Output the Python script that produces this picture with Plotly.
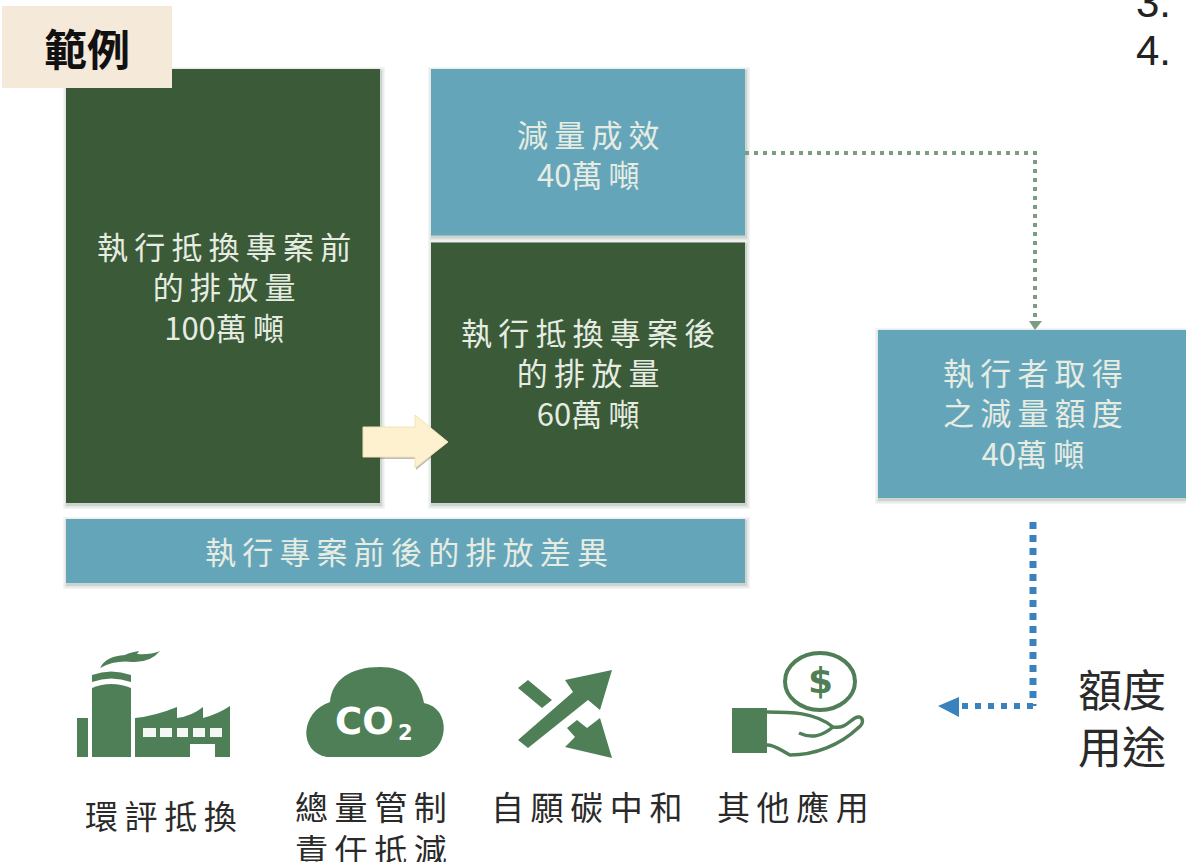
import plotly.graph_objects as go

# Emissions in units of 10,000 tonnes
emission_before = 100
emission_after = 60
emission_reduction = 40
credits_obtained = 40

TAG_TEXT = "範例"
HEADING_NUMBERS = ["3.", "4."]
BEFORE_LINES = ["執行抵換專案前", "的排放量", f"{emission_before}萬噸"]
AFTER_LINES = ["執行抵換專案後", "的排放量", f"{emission_after}萬噸"]
REDUCTION_LINES = ["減量成效", f"{emission_reduction}萬噸"]
CREDIT_LINES = ["執行者取得", "之減量額度", f"{credits_obtained}萬噸"]
DIFFERENCE_TEXT = "執行專案前後的排放差異"
USAGE_LINES = ["額度", "用途"]
USE_LABELS = [["環評抵換"], ["總量管制", "責任抵減"], ["自願碳中和"], ["其他應用"]]

DARK_GREEN = "#3a5a38"
TEAL = "#65a5ba"
ICON_GREEN = "#4f7f56"
CREAM = "#f5e9d9"
BLUE = "#3a82bd"
DOT_GREEN = "#7d9c84"
TEXT_LIGHT = "#e6ece2"
TEXT_DARK = "#2a2a2a"
CJK = "Noto Sans CJK TC"
LATIN_BOLD = "DejaVu Sans"

WIDTH, HEIGHT = 1186, 862
STACK_BOTTOM = 503
PX_PER_UNIT = 4.34
STACK_GAP = 7

shapes = []
annotations = []


def rect(x0, y0, x1, y1, fill, line=None, line_width=0):
    shapes.append(dict(type="rect", x0=x0, y0=y0, x1=x1, y1=y1, fillcolor=fill,
                       line=dict(color=line or fill, width=line_width),
                       layer="above"))


def box(x0, y0, x1, y1, fill):
    # Soft drop shadow built from stacked translucent rectangles
    for grow, alpha in ((4, 0.07), (2.5, 0.10), (1, 0.16)):
        rect(x0 - grow + 1, y0 - grow + 2, x1 + grow + 1, y1 + grow + 2,
             f"rgba(90,110,95,{alpha})")
    rect(x0, y0, x1, y1, fill)


def path(d, fill="rgba(0,0,0,0)", line=None, width=0, dash=None):
    shapes.append(dict(type="path", path=d, fillcolor=fill,
                       line=dict(color=line or "rgba(0,0,0,0)", width=width,
                                 dash=dash or "solid"),
                       layer="above"))


def spaced(line):
    # Open up the tracking between CJK characters with thin spaces
    out = ""
    for i, ch in enumerate(line):
        out += ch
        if i + 1 < len(line) and ord(ch) > 0x2E80 and ord(line[i + 1]) > 0x2E80:
            out += "\u2009"
    return out


def label(x, y, lines, size=31, color=TEXT_LIGHT, family=CJK, anchor="center",
          weight="normal", track=True):
    if isinstance(lines, str):
        lines = [lines]
    text = "<br>".join(spaced(l) if track else l for l in lines)
    annotations.append(dict(x=x, y=y, text=text, showarrow=False, xanchor=anchor,
                            yanchor="middle", xref="x", yref="y",
                            font=dict(family=family, size=size, color=color,
                                      weight=weight)))


# Emission boxes, heights scaled from the tonnage
before_top = STACK_BOTTOM - emission_before * PX_PER_UNIT
after_top = STACK_BOTTOM - emission_after * PX_PER_UNIT
reduction_top = after_top - emission_reduction * PX_PER_UNIT

box(66, before_top, 380, STACK_BOTTOM, DARK_GREEN)
box(431, after_top, 745, STACK_BOTTOM, DARK_GREEN)
box(431, reduction_top, 745, after_top - STACK_GAP, TEAL)
box(66, 519, 745, 583, TEAL)
box(878, 330, 1190, 498, TEAL)

# Tag in the corner sits on top of the first box
rect(2, 6, 172, 88, CREAM)
label(87, 47, TAG_TEXT, size=43, color="#111111", weight="bold", track=False)

# Block arrow between the two emission boxes
path("M365,429 L416,429 L416,417 L449,443 L416,470 L416,459 L365,459 Z",
     fill="rgba(70,70,50,0.35)")
path("M363,427 L415,427 L415,415 L448,442 L415,468 L415,457 L363,457 Z",
     fill="#fdf1cf", line="#f3e2b4", width=1)

# Dotted connector from the reduction box down to the credit box
path("M745,153 L1035,153 L1035,322", line=DOT_GREEN, width=4, dash="4px,5px")
path("M1029,321 L1042,321 L1035,330 Z", fill=DOT_GREEN)

# Dotted connector from the credit box to the uses row
path("M1033,522 L1033,706", line=BLUE, width=7, dash="7px,6px")
path("M1033,706 L960,706", line=BLUE, width=6, dash="6px,7px")
path("M938,706 L959,697 L959,717 Z", fill=BLUE)

# Factory icon
rect(77, 718, 88, 757, ICON_GREEN)
path("M92,757 L92,688 Q111,680 131,688 L131,757 Z", fill=ICON_GREEN)
path("M92,682 L92,675 Q111,668 131,675 L131,682 Q111,675 92,682 Z", fill=ICON_GREEN)
path("M100,668 Q106,656 125,655 Q128,653 139,651 L137,654 Q150,655 160,651 "
     "Q150,663 132,662 Q115,660 100,668 Z", fill=ICON_GREEN)
path("M135,718 Q155,716 177,707 L177,718 Q192,716 203,707 L203,718 Q218,714 230,706 "
     "L230,757 L215,757 L215,744 L190,744 L190,757 L135,757 Z", fill=ICON_GREEN)
for wx0, wx1 in ((143, 156), (160, 172), (177, 188), (193, 205), (210, 222)):
    rect(wx0, 728, wx1, 737, "#f4f7f4")

# CO2 cloud icon
path("M327,757 C298,752 300,712 330,702 C332,680 350,667 380,667 "
     "C405,667 420,680 424,703 C452,708 450,752 420,757 Z", fill=ICON_GREEN)
label(364, 721, "CO", size=37, color="white", family=LATIN_BOLD, weight="bold", track=False)
label(405, 733, "2", size=21, color="white", family=LATIN_BOLD, weight="bold", track=False)

# Crossing arrows icon
path("M518,740 L573,692 L565,680 L612,670 L600,710 L588,700 L528,748 Z", fill=ICON_GREEN)
path("M518,688 L528,680 L552,700 L542,708 Z", fill=ICON_GREEN)
path("M567,728 L577,720 L587,728 L600,718 L612,758 L565,747 L575,737 Z", fill=ICON_GREEN)

# Hand and coin icon
shapes.append(dict(type="circle", x0=785, y0=653, x1=855, y1=710,
                   fillcolor="rgba(0,0,0,0)", line=dict(color=ICON_GREEN, width=4),
                   layer="above"))
label(820, 680, "$", size=36, color=ICON_GREEN, family=LATIN_BOLD, weight="bold", track=False)
rect(732, 708, 767, 753, ICON_GREEN)
path("M767,712 C790,712 815,712 833,727 C845,729 848,722 855,718 C862,714 866,722 858,728 "
     "C840,745 815,755 790,755 C780,750 775,745 767,745",
     line=ICON_GREEN, width=3.5)
path("M799,733 C812,739 822,736 833,727", line=ICON_GREEN, width=3.5)

# Box captions
label(224, 286, BEFORE_LINES)
label(588, 153, REDUCTION_LINES)
label(588, 372, AFTER_LINES)
label(1033, 412, CREDIT_LINES)
label(406, 550, DIFFERENCE_TEXT)

# Right-hand heading and the uses row
label(1122, 716, USAGE_LINES, size=44, color=TEXT_DARK, track=False)
for cx, cy, lines in zip((161, 371, 586, 793), (815, 827, 806, 806), USE_LABELS):
    label(cx, cy, lines, size=33, color=TEXT_DARK)

for y, num in zip((2, 50), HEADING_NUMBERS):
    label(1134, y, num, size=42, color="#222222", family="Liberation Sans", anchor="left",
          track=False)

fig = go.Figure()
fig.update_layout(
    width=WIDTH, height=HEIGHT,
    margin=dict(l=0, r=0, t=0, b=0),
    paper_bgcolor="white", plot_bgcolor="white",
    showlegend=False,
    shapes=shapes, annotations=annotations,
    xaxis=dict(range=[0, WIDTH], visible=False, fixedrange=True),
    yaxis=dict(range=[HEIGHT, 0], visible=False, fixedrange=True),
)
fig.write_html("out.html", config=dict(displayModeBar=False))
